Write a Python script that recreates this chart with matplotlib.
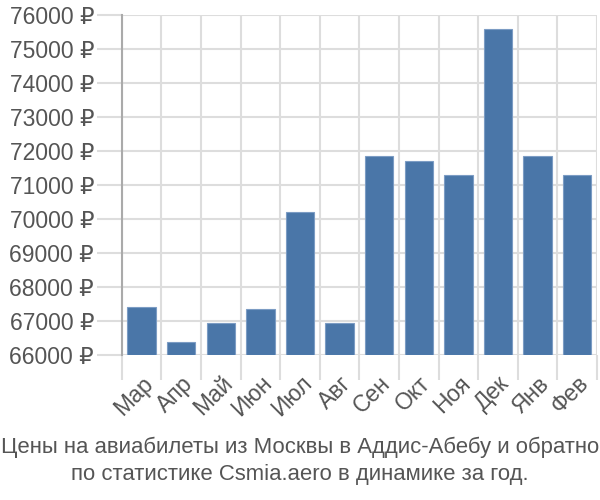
import numpy as np
import matplotlib
matplotlib.use('Agg')
import matplotlib.pyplot as plt
from matplotlib.ticker import FixedLocator, FuncFormatter

months = ['Мар', 'Апр', 'Май', 'Июн', 'Июл', 'Авг', 'Сен', 'Окт', 'Ноя', 'Дек', 'Янв', 'Фев']
prices = [67410, 66380, 66940, 67350, 70200, 66940, 71850, 71700, 71290, 75590, 71850, 71290]
yticks = list(range(66000, 76001, 1000))
title = 'Цены на авиабилеты из Москвы в Аддис-Абебу и обратно\nпо статистике Csmia.aero в динамике за год.'

plt.rcParams['font.family'] = ['Liberation Sans', 'DejaVu Sans']
text_color = '#555555'
grid_color = '#dddddd'

fig = plt.figure(figsize=(6, 5), dpi=100)
ax = fig.add_axes([0.203, 0.29, 0.792, 0.68])

x = np.arange(len(months))
ax.bar(x, [p - 66000 for p in prices], bottom=66000, width=0.72,
       color='#4a76a8', edgecolor='#7c9cc4', linewidth=0.8, zorder=3)

ax.set_xlim(-0.5, len(months) - 0.5)
ax.set_ylim(66000, 76000)
ax.set_yticks(yticks)
ax.yaxis.set_major_formatter(FuncFormatter(lambda v, p: f'{int(v)} ₽'))

ax.set_xticks(x)
ax.set_xticklabels(months, rotation=45, ha='right', va='top', rotation_mode='anchor')
ax.xaxis.set_minor_locator(FixedLocator(np.arange(-0.5, len(months), 1.0)))

ax.grid(True, axis='y', which='major', color=grid_color, linewidth=1.5, zorder=0)
ax.grid(True, axis='x', which='minor', color=grid_color, linewidth=1.5, zorder=0)
ax.tick_params(axis='x', which='major', length=0, pad=12, labelsize=16.5, colors=text_color)
ax.tick_params(axis='x', which='minor', length=18, width=1.5, color=grid_color)
ax.tick_params(axis='y', length=18, width=1.5, color=grid_color, pad=2,
               labelsize=16.5, labelcolor=text_color)

for s in ['top', 'right', 'bottom']:
    ax.spines[s].set_visible(False)
ax.spines['left'].set_color('#aaaaaa')
ax.spines['left'].set_linewidth(1.5)
ax.spines['left'].set_bounds(66000, 76000)

fig.text(0.5, 0.078, title, ha='center', va='center', fontsize=15.9,
         color=text_color, linespacing=1.35)

fig.savefig('out.png', dpi=100)
